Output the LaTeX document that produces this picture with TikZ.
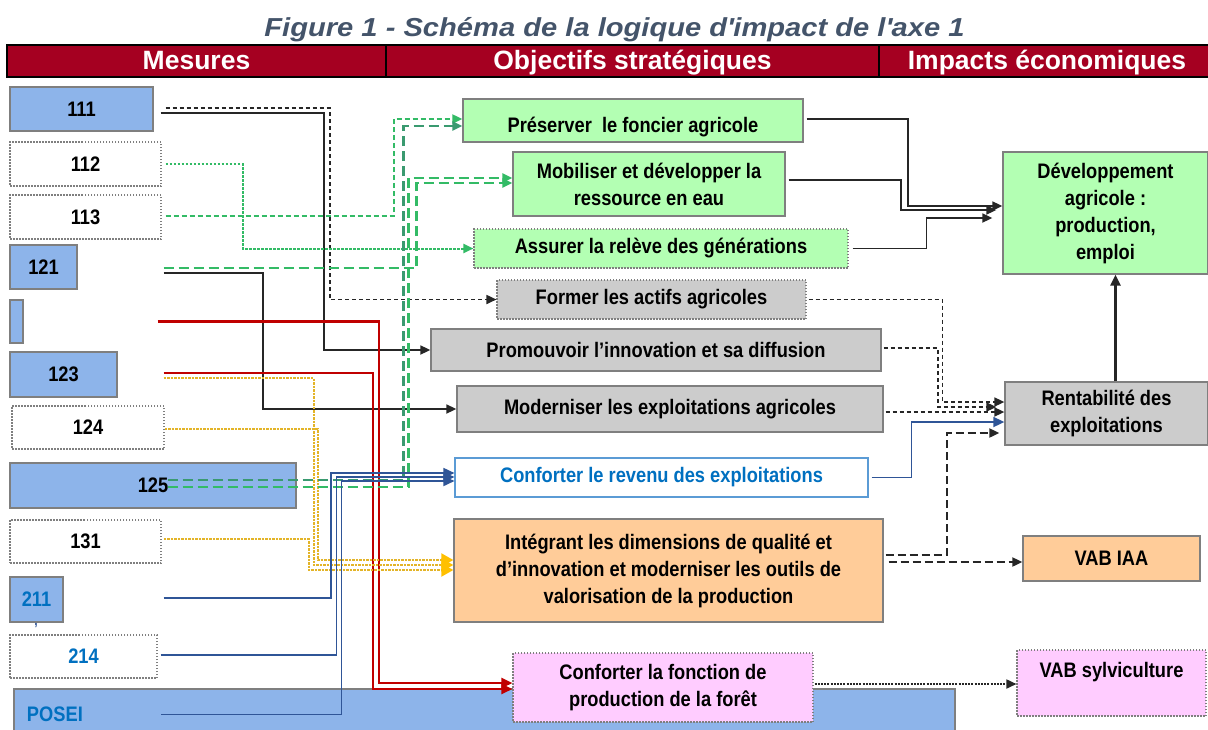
\documentclass[tikz,border=0pt]{standalone}
\usepackage{fontspec}
\setmainfont{Liberation Sans}
\newfontfamily\narrowsf[FakeStretch=0.87]{Liberation Sans}
\newfontfamily\widesf[FakeStretch=1.12]{Liberation Sans}
\usetikzlibrary{arrows.meta}

\definecolor{rougeEntete}{HTML}{A50021}
\definecolor{grisTitre}{HTML}{44546A}
\definecolor{bleuMesure}{HTML}{8DB4EA}
\definecolor{bleuTexte}{HTML}{0070C0}
\definecolor{vertObj}{HTML}{B3FFB3}
\definecolor{grisObj}{HTML}{CCCCCC}
\definecolor{orangeObj}{HTML}{FFCC99}
\definecolor{roseObj}{HTML}{FFCCFF}
\definecolor{grisCadre}{HTML}{7F7F7F}
\definecolor{vertTrait}{HTML}{33BB66}
\definecolor{vertFonce}{HTML}{3A9A70}
\definecolor{rougeTrait}{HTML}{C00000}
\definecolor{orTrait}{HTML}{E3B428}
\definecolor{jauneFleche}{HTML}{FFC000}
\definecolor{bleuTrait}{HTML}{2F5597}
\definecolor{bleuCadre}{HTML}{5B9BD5}

\tikzset{
  titre/.style={font=\widesf\bfseries\itshape\fontsize{26}{30}\selectfont, text=grisTitre, anchor=base},
  entete/.style={draw=black, line width=2pt, fill=rougeEntete, text=white,
    font=\bfseries\fontsize{26.5}{30}\selectfont, minimum height=32pt,
    text height=19pt, text depth=3pt, inner sep=0pt},
  boite/.style={font=\narrowsf\bfseries\fontsize{21}{27}\selectfont, align=center,
    inner sep=2pt, line width=1.3pt, draw=grisCadre},
  boitept/.style={boite, line width=1.1pt, dash pattern=on 1.5pt off 1.5pt},
  mesure/.style={boite, fill=bleuMesure},
  mesurevide/.style={boitept, fill=white},
  fl/.style={-{Triangle[length=10pt,width=9pt]}},
  lnnoir/.style={fl, line width=1.7pt, draw=black!85},
  lntiret/.style={lnnoir, dash pattern=on 4pt off 3pt},
  lnlong/.style={lnnoir, line width=1.9pt, dash pattern=on 8pt off 4pt},
  lnpoint/.style={lnnoir, dash pattern=on 2pt off 1.2pt},
  lnepais/.style={lnnoir, line width=3.2pt, -{Triangle[length=11pt,width=10pt]}},
  lnvertpt/.style={fl, line width=2pt, draw=vertTrait, dash pattern=on 2.5pt off 1.5pt},
  lnverttiret/.style={fl, line width=2pt, draw=vertTrait, dash pattern=on 5pt off 3pt},
  lnvertlong/.style={fl, line width=2.4pt, draw=vertTrait, dash pattern=on 10pt off 5pt},
  lnrouge/.style={line width=2.2pt, draw=rougeTrait, -{Triangle[length=11pt,width=10pt]}},
  lnor/.style={line width=2pt, draw=orTrait, dash pattern=on 2.5pt off 1pt,
    -{Triangle[length=12pt,width=13pt,color=jauneFleche]}},
  lnbleu/.style={line width=1.7pt, draw=bleuTrait, -{Triangle[length=11pt,width=10pt]}}
}

\begin{document}
\begin{tikzpicture}[x=1pt,y=-1pt]
  \useasboundingbox (0,0) rectangle (1208,729);

  \node[titre] (fig) at (614.5,36) {Figure 1 - Schéma de la logique d\textquotesingle impact de l\textquotesingle axe 1};

  \node[entete, minimum width=379pt] (hmes) at (196.5,61) {Mesures};
  \node[entete, minimum width=493pt] (hobj) at (632.5,61) {Objectifs stratégiques};
  \node[entete, minimum width=336pt] (himp) at (1047,61) {Impacts économiques};

  % mesures
  \node[mesure, minimum width=143pt, minimum height=44pt] (m111) at (81.5,109) {111};
  \node[mesurevide, minimum width=151pt, minimum height=44pt] (m112) at (85.5,164) {112};
  \node[mesurevide, minimum width=151pt, minimum height=44pt] (m113) at (85.5,217) {113};
  \node[mesure, minimum width=67pt, minimum height=44pt] (m121) at (43.5,267) {121};
  \node[mesure, minimum width=13pt, minimum height=43pt, inner sep=0pt] (m122) at (16.5,321.5) {};
  \node[mesure, minimum width=107pt, minimum height=45pt] (m123) at (63.5,374.5) {123};
  \node[mesurevide, minimum width=152pt, minimum height=43pt] (m124) at (88,427.5) {124};
  \node[mesure, minimum width=286pt, minimum height=45pt] (m125) at (153,485.5) {125};
  \node[mesurevide, minimum width=151pt, minimum height=43pt] (m131) at (85.5,541.5) {131};
  \node[mesure, minimum width=53pt, minimum height=45pt, text=bleuTexte] (m211) at (36.5,599.5) {211};
  \node[font=\narrowsf\bfseries\fontsize{14}{14}\selectfont, text=bleuTrait] (virgule) at (36,626) {,};
  \node[mesurevide, minimum width=147pt, minimum height=43pt, text=bleuTexte] (m214) at (83.5,656.5) {214};
  \node[mesure, minimum width=941pt, minimum height=51pt, text width=915pt, inner xsep=13pt,
    align=left, text=bleuTexte] (posei) at (484.5,714.5) {POSEI};

  % objectifs
  \node[boite, fill=vertObj, minimum width=340pt, minimum height=43pt, text height=29pt, text depth=4.5pt] (preserver) at (633,120.5) {Préserver\ \ le foncier agricole};
  \node[boite, fill=vertObj, minimum width=272pt, minimum height=64pt] (mobiliser) at (649,184) {Mobiliser et développer la\\ressource en eau};
  \node[boitept, fill=vertObj, minimum width=374pt, minimum height=39pt] (assurer) at (661,248.5) {Assurer la relève des générations};
  \node[boitept, fill=grisObj, minimum width=309pt, minimum height=39pt] (former) at (651.5,299.5) {Former les actifs agricoles};
  \node[boite, fill=grisObj, minimum width=450pt, minimum height=42pt] (promouvoir) at (656,350) {Promouvoir l’innovation et sa diffusion};
  \node[boite, fill=grisObj, minimum width=426pt, minimum height=46pt] (moderniser) at (670,409) {Moderniser les exploitations agricoles};
  \node[boite, fill=white, draw=bleuCadre, line width=1.1pt, text=bleuTexte, minimum width=413pt, minimum height=39pt] (revenu) at (661.5,477.5) {Conforter le revenu des exploitations};
  \node[boite, fill=orangeObj, minimum width=429pt, minimum height=103pt] (integrant) at (668.5,570.5) {Intégrant les dimensions de qualité et\\d’innovation et moderniser les outils de\\valorisation de la production};
  \node[boitept, fill=roseObj, minimum width=300pt, minimum height=69pt] (foret) at (663,687.5) {Conforter la fonction de\\production de la forêt};

  % impacts
  \node[boite, fill=vertObj, minimum width=205pt, minimum height=122pt] (devagri) at (1105.5,213) {Développement\\agricole :\\production,\\emploi};
  \node[boite, fill=grisObj, minimum width=203pt, minimum height=63pt] (rentab) at (1106.5,413.5) {Rentabilité des\\exploitations};
  \node[boite, fill=orangeObj, minimum width=177pt, minimum height=45pt] (vabiaa) at (1111.5,558.5) {VAB IAA};
  \node[boitept, fill=roseObj, minimum width=189pt, minimum height=66pt] (vabsylv) at (1111.5,683) {VAB sylviculture\\\mbox{}};

  % mesures -> objectifs
  \draw[lnnoir] ([xshift=7pt,yshift=-4pt]m111.east) -- ++(163,0) |- (promouvoir.west);
  \draw[lntiret] ([xshift=12pt,yshift=1pt]m111.east) -- ++(164,0) |- (former.west);
  \draw[lnvertpt] ([xshift=4pt]m112.east) -- ++(77,0) |- (assurer.west);
  \draw[lnverttiret] ([xshift=4pt,yshift=1pt]m113.east) -- ++(228,0) |- ([yshift=1.5pt]preserver.west);
  \draw[lnvertlong] ([xshift=86pt,yshift=-1pt]m121.east) -- ++(253,0) |- ([yshift=1pt]mobiliser.west);
  \draw[lnnoir] ([xshift=86pt,yshift=-6pt]m121.east) -- ++(99,0) |- (moderniser.west);
  \draw[lnrouge] ([xshift=134pt]m122.east) -- ++(221,0) |- ([yshift=4.5pt]foret.west);
  \draw[lnrouge] ([xshift=46pt,yshift=1.5pt]m123.east) -- ++(209,0) |- ([yshift=-1.5pt]foret.west);
  \draw[lnor] ([xshift=46pt,yshift=-3.5pt]m123.east) -- ++(150,0) |- ([yshift=5.5pt]integrant.west);
  \draw[lnor] ([yshift=-1.5pt]m124.east) -- ++(153,0) |- ([yshift=10.5pt]integrant.west);
  \draw[lnor] ([xshift=2pt,yshift=2.5pt]m131.east) -- ++(145,0) |- ([yshift=0.5pt]integrant.west);
  \draw[lnvertlong, draw=vertFonce] ([xshift=-129pt,yshift=5.5pt]m125.east) -- ++(236,0) |- ([yshift=-5.5pt]preserver.west);
  \draw[lnvertlong] ([xshift=-129pt,yshift=-1.5pt]m125.east) -- ++(241,0) |- ([yshift=6pt]mobiliser.west);
  \draw[lnbleu] ([xshift=100pt,yshift=1.5pt]m211.east) -- ++(167,0) |- ([yshift=4.5pt]revenu.west);
  \draw[lnbleu] ([xshift=3pt,yshift=1.5pt]m214.east) -- ++(176,0) |- ([yshift=0.5pt]revenu.west);
  \draw[lnbleu] ([xshift=148pt]posei.west) -- ++(180,0) |- ([yshift=-3.5pt]revenu.west);

  % objectifs -> impacts
  \draw[lnnoir] ([xshift=3pt,yshift=1.5pt]preserver.east) -- ++(101,0) |- ([yshift=7pt]devagri.west);
  \draw[lnnoir, shorten >=6pt] ([xshift=3pt,yshift=4pt]mobiliser.east) -- ++(112,0) |- ([yshift=3pt]devagri.west);
  \draw[lnnoir, shorten >=10pt] ([xshift=4pt]assurer.east) -- ++(74,0) |- ([yshift=-5pt]devagri.west);
  \draw[lntiret] ([xshift=2pt]former.east) -- ++(134,0) |- ([yshift=11.5pt]rentab.west);
  \draw[lntiret, shorten >=8pt] ([xshift=2pt,yshift=2pt]promouvoir.east) -- ++(54,0) |- ([yshift=6.5pt]rentab.west);
  \draw[lntiret] ([xshift=2pt,yshift=-3pt]moderniser.east) -- ([yshift=1.5pt]rentab.west);
  \draw[lnbleu] ([xshift=3pt]revenu.east) -- ++(40,0) |- ([yshift=-8.5pt]rentab.west);
  \draw[lnlong, shorten >=5pt] ([xshift=2pt,yshift=15.5pt]integrant.east) -- ++(61,0) |- ([yshift=-19.5pt]rentab.west);
  \draw[lnlong] ([xshift=5pt,yshift=8.5pt]integrant.east) -- ([yshift=-3.5pt]vabiaa.west);
  \draw[lnpoint] ([xshift=1pt,yshift=3.5pt]foret.east) -- ([yshift=-1pt]vabsylv.west);
  \draw[lnepais] ([xshift=9pt]rentab.north) -- ([xshift=10pt]devagri.south);
\end{tikzpicture}
\end{document}
